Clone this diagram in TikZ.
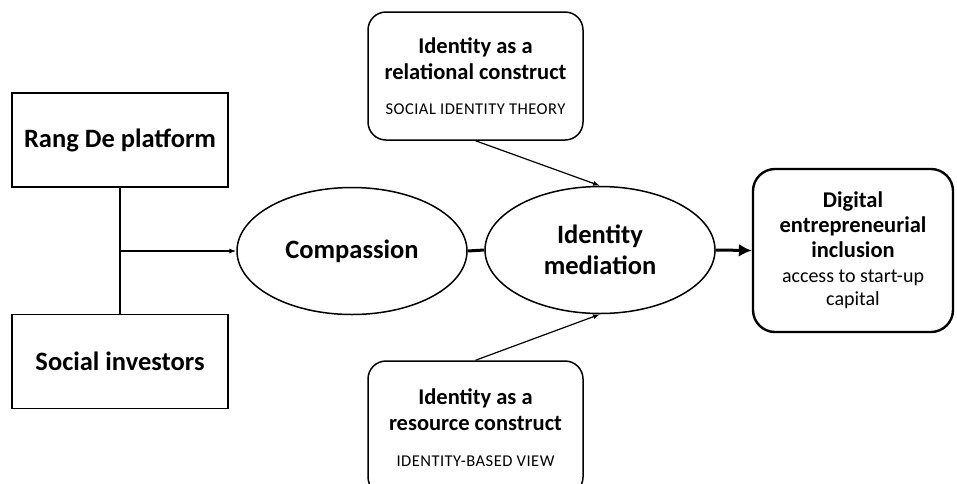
\documentclass[tikz,border=0pt]{standalone}
\usepackage{fontspec}
\setmainfont{Carlito}
\usetikzlibrary{arrows.meta,shapes.geometric}
\newcommand{\smallcapline}[1]{{\fontsize{16.5}{20}\selectfont\addfontfeatures{LetterSpace=3}#1}}
\begin{document}
\begin{tikzpicture}[x=1pt,y=-1pt,
  sqbox/.style={draw,line width=1.5pt,minimum width=216pt,minimum height=94pt,font=\fontsize{26.5}{31}\selectfont\bfseries},
  rbox/.style={draw,line width=1.5pt,rounded corners=18pt,minimum width=215pt,minimum height=128pt,align=center,font=\fontsize{22.5}{26}\selectfont},
  oval/.style={draw,ellipse,line width=1.5pt,minimum width=230pt,minimum height=127pt,inner sep=0pt,align=center,font=\fontsize{26.5}{31}\selectfont\bfseries},
  thin/.style={line width=1.2pt,-{Latex[length=7pt,width=5pt]}},
  thick/.style={line width=3pt}
]
\useasboundingbox (0,0) rectangle (957,483);
\node[sqbox] (rang) at (120,140) {Rang De platform};
\node[sqbox] (soc) at (120,361.5) {Social investors};
\node[oval] (comp) at (352,251) {Compassion};
\node[oval] (med) at (600,250) {Identity\\mediation};
\node[rbox] (top) at (475.5,76) {\textbf{Identity as a}\\\textbf{relational construct}\\[9pt]\smallcapline{SOCIAL IDENTITY\ THEORY}};
\node[rbox,minimum height=134pt] (bot) at (475.5,428) {\textbf{Identity as a}\\\textbf{resource construct}\\[10pt]\smallcapline{IDENTITY-BASED\ VIEW}};
\node[rbox,line width=2.4pt,rounded corners=22pt,minimum width=200pt,minimum height=163pt,font=\fontsize{22.5}{25}\selectfont] (dig) at (853,250.5) {\textbf{Digital}\\\textbf{entrepreneurial}\\\textbf{inclusion}\\{\fontsize{20}{24}\selectfont access to start-up}\\[-2pt]{\fontsize{20}{24}\selectfont capital}};
\coordinate (j) at (120,251);
\draw[line width=1.5pt] (rang.south) -- (soc.north);
\draw[thin] (j) -- (comp.west);
\draw[thick] (comp.east) -- (med.west);
\draw[thick,-{Latex[length=13pt,width=13pt]}] (med.east) -- (dig.west);
\draw[thin] (top.south) -- (med.north);
\draw[thin] (bot.north) -- (med.south);
\end{tikzpicture}
\end{document}
